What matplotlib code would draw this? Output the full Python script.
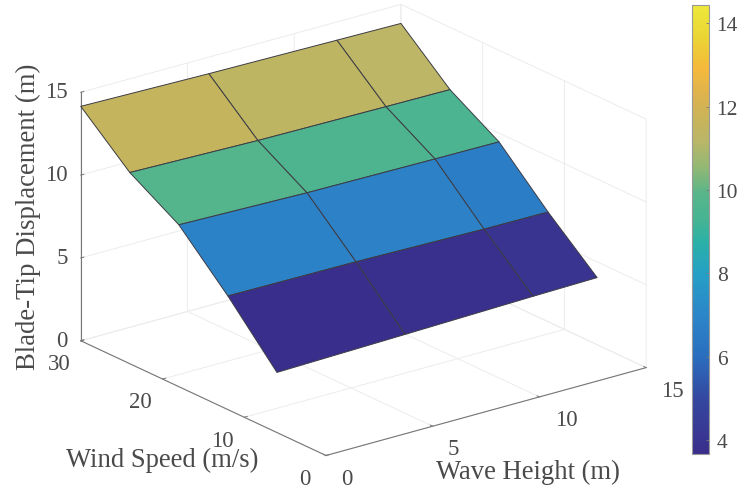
import numpy as np
import matplotlib
matplotlib.use('Agg')
import matplotlib.pyplot as plt
from matplotlib.colors import LinearSegmentedColormap, Normalize
from matplotlib.cm import ScalarMappable

wave_height = [0, 6, 12, 15]
wind_speed = [6, 12, 18, 24, 30]
displacement = [
    [3.63, 3.80, 3.98, 4.05],
    [6.86, 6.80, 6.65, 6.62],
    [9.77, 9.58, 9.50, 9.47],
    [11.54, 11.35, 11.27, 11.24],
    [14.15, 14.00, 13.90, 13.85],
]
x_ticks = [0, 5, 10, 15]
y_ticks = [0, 10, 20, 30]
z_ticks = [0, 5, 10, 15]
cbar_ticks = [4, 6, 8, 10, 12, 14]
cbar_range = (3.66, 14.44)

plt.rcParams['font.family'] = ['Liberation Serif', 'DejaVu Serif']
TEXT = '#4a4a4a'

cmap = LinearSegmentedColormap.from_list('parula_like', [
    (0.00, '#3A2E8C'), (0.12, '#34479F'), (0.22, '#2A6FBF'), (0.30, '#2C83C8'),
    (0.40, '#259FC6'), (0.47, '#2AB0A8'), (0.52, '#45B494'), (0.58, '#58B58A'), (0.64, '#93B873'),
    (0.70, '#BBB668'), (0.73, '#C2B45E'), (0.80, '#DDB34E'), (0.86, '#F5B93B'), (0.93, '#EBD534'),
    (1.00, '#EDE83A')])
norm = Normalize(*cbar_range)

fig = plt.figure(figsize=(7.39, 4.89), dpi=100)
H = 611
ax = fig.add_axes([49.7/739, -55.7/489, H/739, H/489], projection='3d', proj_type='ortho')
ax.patch.set_alpha(0)
ax.view_init(elev=21, azim=-127.45)
ax.set_box_aspect((1, 1, 0.66), zoom=1.0)

X, Y = np.meshgrid(wave_height, wind_speed)
Z = np.array(displacement)
ax.plot_surface(X, Y, Z, facecolors=cmap(norm(Z)), shade=False, rstride=1, cstride=1,
                edgecolor='#3c3c44', linewidth=0.7, antialiased=True)

ax.set_xlim(0, 15, view_margin=0)
ax.set_ylim(0, 30, view_margin=0)
ax.set_zlim(0, 15, view_margin=0)
ax.set_xticks(x_ticks)
ax.set_yticks(y_ticks)
ax.set_zticks(z_ticks)

for axis, pad, ha in ((ax.xaxis, 6.2, 'left'), (ax.yaxis, 7.5, 'center'), (ax.zaxis, -2.7, 'right')):
    axis.set_pane_color((1, 1, 1, 0))
    axis.pane.set_edgecolor('#a8a8a8')
    axis.pane.set_linewidth(0.8)
    axis.line.set_color('#777777')
    axis.line.set_linewidth(0.8)
    axis._axinfo['grid'].update(color='#ececec', linewidth=0.7)
    axis._axinfo['tick'].update(inward_factor=0.0, outward_factor=0.12, linewidth={True: 0.7, False: 0.7})
    axis.set_tick_params(labelsize=16.5, labelcolor=TEXT, color='#777777', pad=pad)
    for lab in axis.get_ticklabels():
        lab.set_ha(ha)
        lab.set_va('center')

fig.text(528/739, 1-472/489, 'Wave Height (m)', fontsize=19.2, color=TEXT, ha='center', va='center')
fig.text(162/739, 1-460/489, 'Wind Speed (m/s)', fontsize=19.2, color=TEXT, ha='center', va='center')
fig.text(28/739, 1-217/489, 'Blade-Tip Displacement (m)', fontsize=19.3, color=TEXT,
         ha='center', va='center', rotation=90)

cax = fig.add_axes([692/739, 1-455/489, 17/739, 449/489])
cb = fig.colorbar(ScalarMappable(norm=norm, cmap=cmap), cax=cax)
cb.set_ticks(cbar_ticks)
cb.ax.tick_params(labelsize=15.5, labelcolor=TEXT, direction='in', length=2.5, width=0.6, color='#777777', pad=5.5)
cb.outline.set_edgecolor('#999999')
cb.outline.set_linewidth(0.8)

fig.savefig('out.png', dpi=100)
